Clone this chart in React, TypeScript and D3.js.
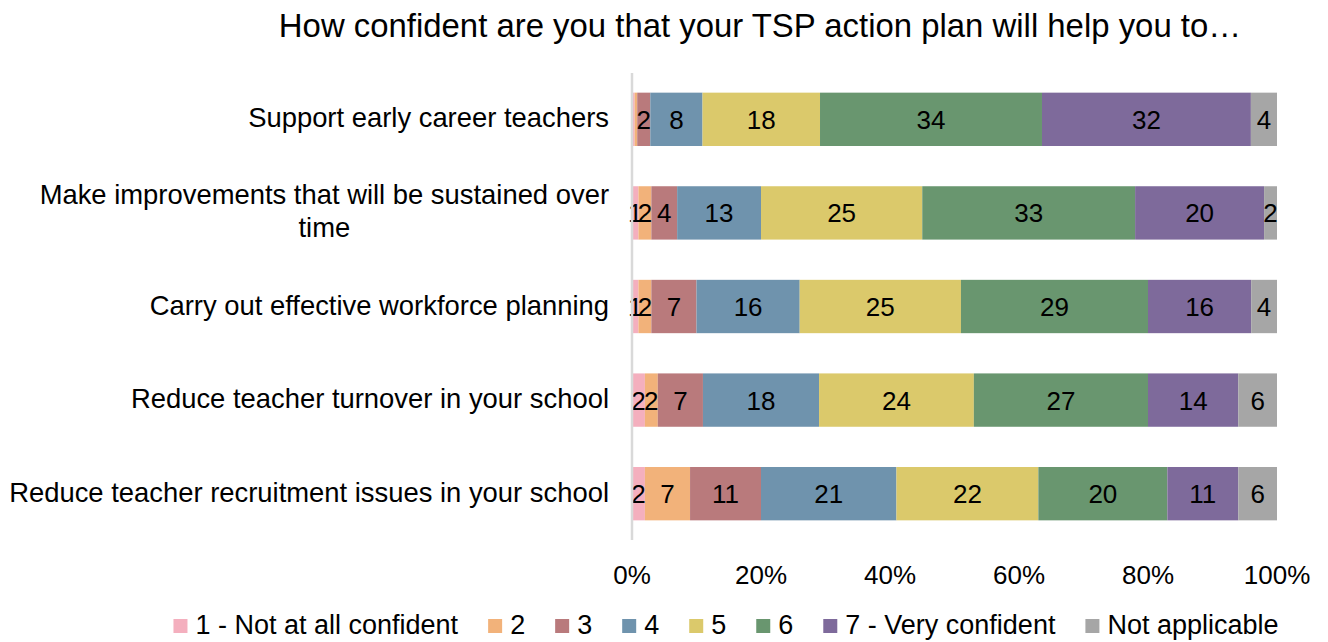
import React, { useEffect, useRef } from "react";
import * as d3 from "d3";

const title = "How confident are you that your TSP action plan will help you to…";
const categories = [
  "Support early career teachers",
  "Make improvements that will be sustained over time",
  "Carry out effective workforce planning",
  "Reduce teacher turnover in your school",
  "Reduce teacher recruitment issues in your school",
];
const seriesNames = ["1 - Not at all confident", "2", "3", "4", "5", "6", "7 - Very confident", "Not applicable"];
const seriesColors = ["#F4AFBE", "#F2B27A", "#B97A7C", "#6F93AD", "#DBC96B", "#69966F", "#7E6A9B", "#A6A6A6"];
const s1 = [0.4, 1, 1, 2, 2];
const s2 = [0.4, 2, 2, 2, 7];
const s3 = [2, 4, 7, 7, 11];
const s4 = [8, 13, 16, 18, 21];
const s5 = [18, 25, 25, 24, 22];
const s6 = [34, 33, 29, 27, 20];
const s7 = [32, 20, 16, 14, 11];
const sNA = [4, 2, 4, 6, 6];
const seriesValues = [s1, s2, s3, s4, s5, s6, s7, sNA];
const tickValues = [0, 0.2, 0.4, 0.6, 0.8, 1];

const W = 1328;
const H = 642;
const FONT = "'Liberation Sans', Arial, sans-serif";

export default function App() {
  const ref = useRef<SVGSVGElement>(null);

  useEffect(() => {
    const svg = d3.select(ref.current);
    svg.selectAll("*").remove();

    const rows = categories.map((c, i) => {
      const r: any = { cat: c };
      seriesNames.forEach((s, j) => (r[s] = seriesValues[j][i]));
      return r;
    });
    const stacked = d3.stack<any>().keys(seriesNames).offset(d3.stackOffsetExpand)(rows);

    const x = d3.scaleLinear().domain([0, 1]).range([632, 1277]);
    const y = d3.scaleBand<string>().domain(categories).range([73, 540]).paddingInner(0.43).paddingOuter(0.21);

    // title
    svg.append("text").attr("x", 760).attr("y", 37).attr("text-anchor", "middle")
      .attr("font-family", FONT).attr("font-size", 32.9).attr("fill", "#000").text(title);

    // bars
    const g = svg.append("g");
    stacked.forEach((layer, j) => {
      const lg = g.append("g").attr("fill", seriesColors[j]);
      layer.forEach((d, i) => {
        lg.append("rect")
          .attr("x", x(d[0]))
          .attr("y", y(categories[i])!)
          .attr("width", Math.max(0, x(d[1]) - x(d[0])))
          .attr("height", y.bandwidth());
      });
    });
    // value labels
    stacked.forEach((layer, j) => {
      layer.forEach((d, i) => {
        const v = Math.round(seriesValues[j][i]);
        if (v < 1) return;
        svg.append("text")
          .attr("x", (x(d[0]) + x(d[1])) / 2)
          .attr("y", y(categories[i])! + y.bandwidth() / 2 + 9.5)
          .attr("text-anchor", "middle")
          .attr("font-family", FONT).attr("font-size", 26).attr("fill", "#000")
          .text(String(v));
      });
    });

    // axis line
    svg.append("line").attr("x1", 632).attr("x2", 632).attr("y1", 73).attr("y2", 540)
      .attr("stroke", "#D9D9D9").attr("stroke-width", 2.5);

    // x ticks
    const fmt = d3.format(".0%");
    svg.append("g").selectAll("text").data(tickValues).join("text")
      .attr("x", (d) => x(d)).attr("y", 584).attr("text-anchor", "middle")
      .attr("font-family", FONT).attr("font-size", 26).attr("fill", "#000")
      .text((d) => fmt(d));

    // category labels with wrap
    const maxW = 620;
    const rightX = 609;
    categories.forEach((c) => {
      const cy = y(c)! + y.bandwidth() / 2;
      const t = svg.append("text").attr("font-family", FONT).attr("font-size", 27.4).attr("fill", "#000");
      const words = c.split(" ");
      const lines: string[] = [];
      let cur = "";
      const probe = t.append("tspan");
      words.forEach((w) => {
        const test = cur ? cur + " " + w : w;
        probe.text(test);
        if ((probe.node() as SVGTSpanElement).getComputedTextLength() > maxW && cur) {
          lines.push(cur);
          cur = w;
        } else cur = test;
      });
      lines.push(cur);
      probe.remove();
      const widths = lines.map((l) => {
        const p = t.append("tspan").text(l);
        const wd = (p.node() as SVGTSpanElement).getComputedTextLength();
        p.remove();
        return wd;
      });
      const maxLine = Math.max(...widths);
      const lh = 33;
      const y0 = cy - ((lines.length - 1) * lh) / 2 + 8;
      lines.forEach((l, k) => {
        t.append("tspan")
          .attr("x", lines.length > 1 ? rightX - maxLine / 2 : rightX)
          .attr("y", y0 + k * lh)
          .attr("text-anchor", lines.length > 1 ? "middle" : "end")
          .text(l);
      });
    });

    // legend
    const lgG = svg.append("g");
    const sq = 14, gapIn = 8, gapOut = 30;
    let cx = 0;
    seriesNames.forEach((s, j) => {
      const item = lgG.append("g").attr("transform", `translate(${cx},0)`);
      item.append("rect").attr("x", 0).attr("y", 619).attr("width", sq).attr("height", sq).attr("fill", seriesColors[j]);
      const t = item.append("text").attr("x", sq + gapIn).attr("y", 634)
        .attr("font-family", FONT).attr("font-size", 27).attr("fill", "#000").text(s);
      const w = (t.node() as SVGTextElement).getComputedTextLength();
      cx += sq + gapIn + w + gapOut;
    });
    const total = cx - gapOut;
    lgG.attr("transform", `translate(${726 - total / 2},0)`);
  }, []);

  return (
    <svg ref={ref} width={W} height={H} style={{ position: "absolute", left: 0, top: 0, background: "#fff" }} />
  );
}
